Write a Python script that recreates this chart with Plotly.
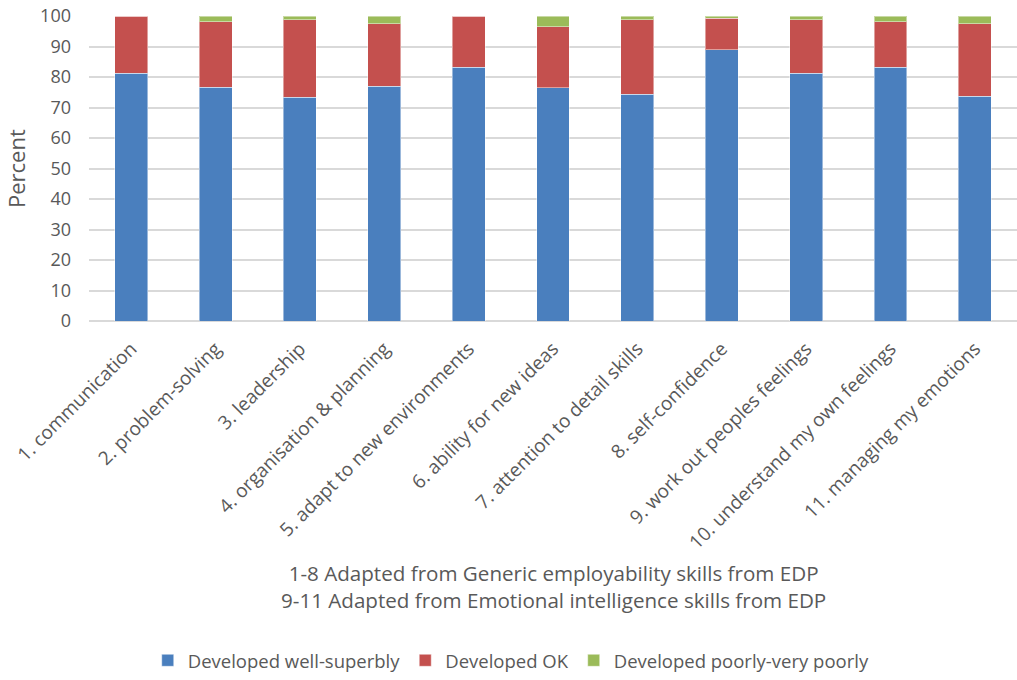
import plotly.graph_objects as go

categories = ["1. communication", "2. problem-solving", "3. leadership",
              "4. organisation & planning", "5. adapt to new environments",
              "6. ability for new ideas", "7. attention to detail skills",
              "8. self-confidence", "9. work out peoples feelings",
              "10. understand my own feelings", "11. managing my emotions"]
well = [81.2, 76.7, 73.4, 77.0, 83.2, 76.4, 74.4, 89.0, 81.2, 83.2, 73.7]
ok = [18.8, 21.4, 25.3, 20.5, 16.8, 20.0, 24.3, 10.3, 17.5, 14.9, 23.8]
poor = [0.0, 1.9, 1.3, 2.5, 0.0, 3.6, 1.3, 0.7, 1.3, 1.9, 2.5]
x_title_lines = ["1-8 Adapted from Generic employability skills from EDP",
                 "9-11 Adapted from Emotional intelligence skills from EDP"]
y_title = "Percent"

series = [("Developed well-superbly", well, "#4A7FBE"),
          ("Developed OK", ok, "#C4504E"),
          ("Developed poorly-very poorly", poor, "#9BBB59")]

font_family = "'Open Sans', sans-serif"
grey = "#595959"

fig = go.Figure()
for name, vals, col in series:
    fig.add_trace(go.Bar(x=categories, y=vals, name=name,
                         marker=dict(color=col, line=dict(color="rgba(255,255,255,0.45)", width=1))))

fig.add_annotation(text="<br>".join(x_title_lines), xref="paper", yref="paper",
                   x=0.5, y=-0.87, xanchor="center", yanchor="middle", showarrow=False,
                   font=dict(size=20.6, color=grey))
fig.add_annotation(text=y_title, xref="paper", yref="paper", textangle=-90,
                   x=-0.0792, y=0.5, xanchor="center", yanchor="middle", showarrow=False,
                   font=dict(size=22, color=grey))

fig.update_layout(
    barmode="stack",
    bargap=0.61,
    width=1017, height=680,
    margin=dict(l=89, r=0, t=16, b=357),
    paper_bgcolor="white", plot_bgcolor="white",
    font=dict(family=font_family, size=18, color=grey),
    legend=dict(orientation="h", x=0.455, xanchor="center", y=-1.114, yanchor="middle",
                font=dict(size=18.5, color=grey), traceorder="normal", itemwidth=30),
    xaxis=dict(tickangle=-45, tickfont=dict(size=19, color=grey), showgrid=False,
               showline=False, ticks="", automargin=False, ticklabelstandoff=12),
    yaxis=dict(range=[0, 100], dtick=10, showgrid=True, gridcolor="#D9D9D9", gridwidth=1.5,
               zeroline=True, zerolinecolor="#D9D9D9", zerolinewidth=1.5,
               tickfont=dict(size=18, color=grey), ticks="", automargin=False,
               ticklabelstandoff=17, ticklabeloverflow="allow"),
)

fig.write_html("out.html", config={"displayModeBar": False},
               post_script="document.body.style.margin='0';document.body.style.overflow='hidden';")
